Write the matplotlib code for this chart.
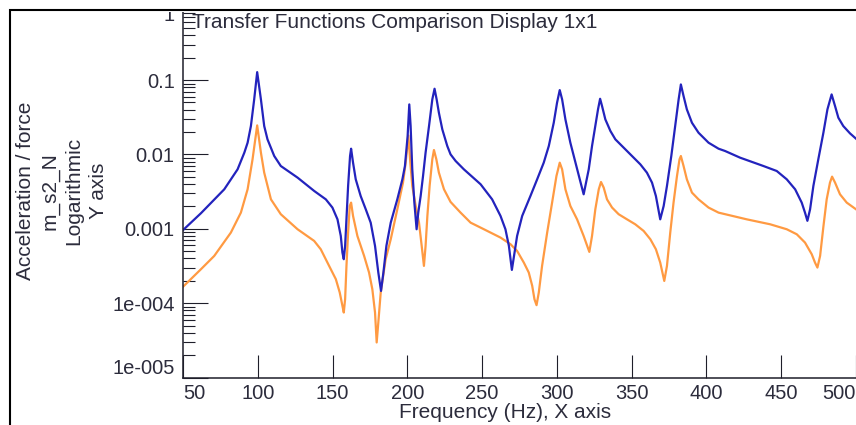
import matplotlib
matplotlib.use("Agg")
import matplotlib.pyplot as plt
from matplotlib.patches import Rectangle
from matplotlib.ticker import FixedLocator, LogLocator, NullFormatter, NullLocator

plt.rcParams['font.family'] = ['Liberation Sans', 'DejaVu Sans']
plt.rcParams['xtick.bottom'] = True
plt.rcParams['ytick.left'] = True

# Transfer function 1 (blue): frequency in Hz, magnitude in m_s2_N
freq_blue = [50, 62.0, 77.6, 86.5, 91.0, 93.2, 95.4, 97.6, 99.6, 102.1, 104.3,
             106.5, 111.0, 115.4, 126.6, 137.7, 145.5, 149.9, 153.3, 155.5,
             156.6, 157.5, 158.4, 159.3, 160.4, 161.7, 162.4, 163.7, 165.5,
             168.8, 172.2, 175.5, 178.4, 180.6, 182.4, 184.0, 186.0, 188.9,
             193.3, 196.7, 198.4, 200.2, 201.3, 202.2, 203.3, 204.7, 206.2,
             207.3, 208.9, 210.5, 212.2, 214.5, 216.7, 218.2, 219.6, 221.1,
             223.4, 226.7, 228.9, 232.3, 237.8, 249.0, 256.7, 262.3, 265.6,
             267.9, 269.9, 271.7, 273.4, 276.8, 282.3, 286.8, 291.2, 294.6,
             297.9, 300.1, 301.9, 303.5, 305.7, 309.0, 312.4, 315.3, 317.9,
             321.3, 323.5, 325.7, 327.5, 328.9, 330.2, 332.4, 335.8, 339.1,
             344.7, 350.2, 355.8, 360.2, 363.6, 366.2, 369.1, 371.4, 373.6,
             376.5, 379.1, 381.4, 382.9, 384.7, 386.9, 390.3, 394.7, 401.4,
             408.1, 412.5, 422.5, 438.1, 447.0, 453.7, 459.3, 463.7, 465.9,
             467.5, 469.3, 471.5, 474.8, 478.2, 480.9, 483.7, 486.0, 488.2,
             491.5, 496.0, 500]
mag_blue = [9.6e-4, 1.62e-3, 3.40e-3, 6.31e-3, 0.01056, 0.01439, 0.0241, 0.0550,
            0.128, 0.055, 0.0241, 0.01596, 0.00953, 0.00699, 0.00488, 0.00323,
            2.49e-3, 1.93e-3, 1.34e-3, 8.02e-4, 4.79e-4, 3.90e-4, 5.89e-4,
            1.34e-3, 3.77e-3, 9.53e-3, 0.01195, 7.75e-3, 4.63e-3, 2.76e-3,
            1.83e-3, 1.21e-3, 5.89e-4, 2.58e-4, 1.46e-4, 2.58e-4, 5.89e-4,
            1.21e-3, 2.49e-3, 4.63e-3, 6.99e-3, 0.0177, 0.0471, 0.0241,
            6.31e-3, 2.25e-3, 9.86e-4, 1.65e-3, 2.76e-3, 5.13e-3, 0.01057,
            0.0241, 0.055, 0.0765, 0.055, 0.0364, 0.0217, 0.0130, 0.01003,
            8.16e-3, 6.31e-3, 3.97e-3, 2.49e-3, 1.49e-3, 9.86e-4, 5.89e-4,
            2.80e-4, 4.79e-4, 8.02e-4, 1.49e-3, 2.76e-3, 4.63e-3, 7.75e-3,
            0.0130, 0.0267, 0.0496, 0.0734, 0.055, 0.0296, 0.01439, 7.75e-3,
            4.63e-3, 2.91e-3, 6.31e-3, 0.0130, 0.0241, 0.0404, 0.0561, 0.0447,
            0.0296, 0.02065, 0.01596, 0.01233, 9.53e-3, 7.36e-3, 5.69e-3,
            4.18e-3, 2.76e-3, 1.34e-3, 2.03e-3, 3.77e-3, 9.53e-3, 0.0241,
            0.055, 0.0874, 0.061, 0.0404, 0.0267, 0.0196, 0.01439, 0.01195,
            0.01112, 9.05e-3, 6.99e-3, 5.99e-3, 4.63e-3, 3.40e-3, 2.25e-3,
            1.65e-3, 1.28e-3, 1.83e-3, 3.77e-3, 8.6e-3, 0.0196, 0.0404,
            0.0642, 0.0447, 0.0312, 0.0241, 0.0192, 0.0163]

# Transfer function 2 (orange)
freq_orange = [50, 62.0, 70.9, 82.0, 88.7, 93.2, 96.5, 99.6, 102.1, 104.3,
               108.8, 115.4, 126.6, 137.7, 142.1, 147.7, 152.2, 154.8, 156.6,
               157.5, 158.4, 159.3, 160.4, 161.5, 162.4, 163.7, 166.6, 171.1,
               174.4, 176.6, 178.4, 179.5, 180.6, 182.2, 185.5, 188.9, 193.3,
               197.1, 198.9, 200.7, 202.0, 203.3, 205.6, 207.8, 209.6, 211.1,
               212.2, 213.4, 214.9, 216.7, 217.8, 219.4, 221.1, 224.5, 228.9,
               235.6, 242.3, 251.2, 262.3, 269.0, 273.4, 277.9, 281.2, 283.5,
               285.0, 286.4, 287.9, 290.1, 293.5, 296.8, 299.7, 301.9, 303.5,
               305.7, 309.0, 313.5, 317.9, 321.7, 323.5, 325.7, 328.0, 329.5,
               331.3, 333.5, 336.9, 341.3, 346.9, 352.4, 358.0, 362.5, 366.2,
               369.1, 371.8, 373.6, 375.8, 378.0, 380.3, 382.0, 382.9, 384.7,
               386.9, 390.3, 394.7, 401.4, 408.1, 427.0, 442.6, 453.7, 460.4,
               465.9, 470.4, 472.6, 474.2, 476.0, 478.2, 480.4, 482.6, 484.0,
               486.0, 489.3, 493.8, 500]
mag_orange = [1.66e-4, 2.86e-4, 4.32e-4, 8.89e-4, 1.65e-3, 3.40e-3, 8.6e-3,
              0.0246, 0.01057, 5.69e-3, 2.49e-3, 1.57e-3, 9.86e-4, 6.87e-4,
              5.31e-4, 3.17e-4, 2.10e-4, 1.39e-4, 9.2e-5, 7.48e-5, 1.13e-4,
              3.17e-4, 8.89e-4, 2.03e-3, 2.25e-3, 1.49e-3, 8.02e-4, 4.32e-4,
              2.58e-4, 1.54e-4, 7.48e-5, 2.96e-5, 5.49e-5, 1.39e-4, 3.9e-4,
              7.23e-4, 1.83e-3, 4.18e-3, 7.75e-3, 0.018, 7.75e-3, 3.77e-3,
              2.03e-3, 1.21e-3, 5.89e-4, 3.17e-4, 5.89e-4, 1.49e-3, 3.77e-3,
              8.6e-3, 0.01148, 8.6e-3, 5.69e-3, 3.40e-3, 2.3e-3, 1.65e-3,
              1.21e-3, 9.86e-4, 7.62e-4, 6.2e-4, 5.04e-4, 3.51e-4, 2.58e-4,
              1.71e-4, 1.13e-4, 9.39e-5, 1.39e-4, 3.17e-4, 8.89e-4, 2.25e-3,
              5.13e-3, 7.75e-3, 6.31e-3, 3.40e-3, 2.03e-3, 1.34e-3, 8.0e-4,
              4.89e-4, 8.02e-4, 1.83e-3, 3.40e-3, 4.26e-3, 3.58e-3, 2.49e-3,
              1.93e-3, 1.57e-3, 1.34e-3, 1.15e-3, 9.36e-4, 7.23e-4, 5.31e-4,
              3.51e-4, 1.99e-4, 3.17e-4, 8.89e-4, 2.25e-3, 5.13e-3, 8.6e-3,
              9.53e-3, 6.99e-3, 4.63e-3, 3.07e-3, 2.49e-3, 1.93e-3, 1.65e-3,
              1.34e-3, 1.15e-3, 9.86e-4, 8.44e-4, 6.53e-4, 4.55e-4, 3.51e-4,
              3.01e-4, 4.32e-4, 1.07e-3, 2.49e-3, 4.18e-3, 5.03e-3, 4.18e-3,
              2.91e-3, 2.25e-3, 1.83e-3]

x_ticks = [50, 100, 150, 200, 250, 300, 350, 400, 450, 500]
x_tick_labels = ['50', '100', '150', '200', '250', '300', '350', '400', '450', '500']
y_ticks = [1e-5, 1e-4, 1e-3, 1e-2, 1e-1, 1]
y_tick_labels = ['1e-005', '1e-004', '0.001', '0.01', '0.1', '1']

title = 'Transfer Functions Comparison Display 1x1'
x_label = 'Frequency (Hz), X axis'
y_label = 'Acceleration / force\nm_s2_N\nLogarithmic\nY axis'

text_color = '#2c2c3c'
axis_color = '#1e1e2a'

W, H = 856, 425
fig = plt.figure(figsize=(W / 100, H / 100), dpi=100)
fig.patch.set_facecolor('white')

left_px, right_px, bottom_px, top_px = 183, 856, 377.5, 5.75
ax = fig.add_axes([left_px / W, 1 - bottom_px / H,
                   (right_px - left_px) / W, (bottom_px - top_px) / H])
ax.set_facecolor('white')

ax.plot(freq_orange, mag_orange, color='#ff9a42', lw=1.6, solid_joinstyle='round')
ax.plot(freq_blue, mag_blue, color='#2323bd', lw=1.6, solid_joinstyle='round')

ax.set_yscale('log')
ax.set_xlim(50, 500)
ax.set_ylim(1e-5, 1)
ax.grid(False)

for side in ('top', 'right'):
    ax.spines[side].set_visible(False)
for side in ('left', 'bottom'):
    ax.spines[side].set_visible(True)
    ax.spines[side].set_color(axis_color)
    ax.spines[side].set_linewidth(1.1)

ax.xaxis.set_major_locator(FixedLocator(x_ticks))
ax.set_xticklabels(x_tick_labels)
ax.xaxis.set_minor_locator(NullLocator())
ax.yaxis.set_major_locator(FixedLocator(y_ticks))
ax.set_yticklabels(y_tick_labels)
ax.yaxis.set_minor_locator(LogLocator(base=10, subs=range(2, 10), numticks=20))
ax.yaxis.set_minor_formatter(NullFormatter())

ax.tick_params(axis='x', which='major', bottom=True, top=False, direction='in',
               length=16.5, width=0.8, color=axis_color, labelsize=14.5,
               labelcolor=text_color, pad=5)
ax.tick_params(axis='y', which='major', left=True, right=False, direction='in',
               length=18, width=0.8, color=axis_color, labelsize=14.5,
               labelcolor=text_color, pad=6)
ax.tick_params(axis='y', which='minor', left=True, right=False, direction='in',
               length=8.5, width=0.8, color=axis_color)

# keep the outermost labels inside the axis extent
xl = ax.get_xticklabels()
xl[0].set_ha('left')
xl[-1].set_ha('right')
yl = ax.get_yticklabels()
yl[0].set_va('bottom')
yl[-1].set_va('top')

fig.text(192 / W, 1 - 28.3 / H, title, fontsize=15, color=text_color,
         ha='left', va='baseline')
fig.text(505 / W, 1 - 412 / H, x_label, fontsize=15, color=text_color,
         ha='center', va='center')
fig.text(62 / W, 1 - 191 / H, y_label, fontsize=15, color=text_color,
         rotation=90, ha='center', va='center', multialignment='center',
         linespacing=1.33)

# display frame: blank strip above it, then the frame border
fig.add_artist(Rectangle((0, 1 - 11.5 / H), 1, 11.5 / H, transform=fig.transFigure,
                         facecolor='white', edgecolor='none', zorder=19))
fig.add_artist(Rectangle((10 / W, -0.2), 2, 1.2 - 10 / H, transform=fig.transFigure,
                         fill=False, edgecolor='black', linewidth=1.5, zorder=20))

fig.savefig('out.png', dpi=100)
